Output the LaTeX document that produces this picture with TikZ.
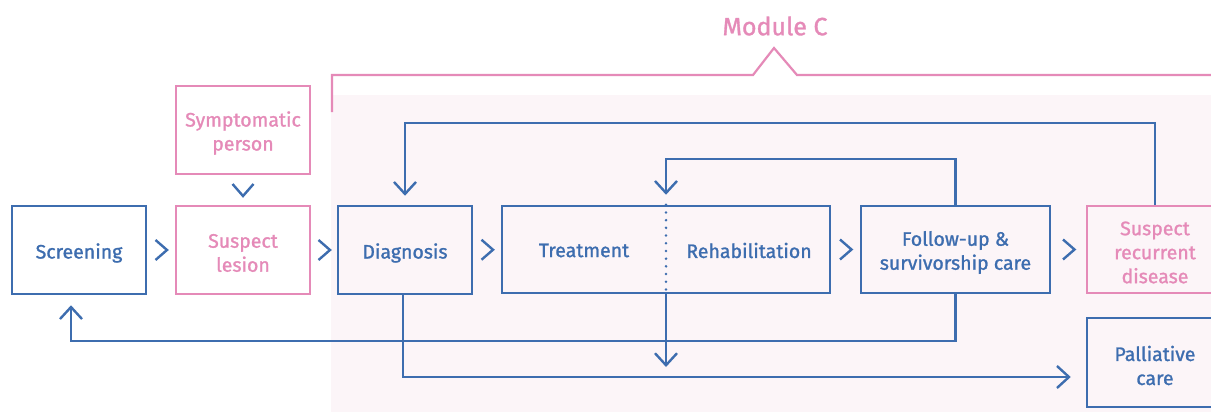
\documentclass[tikz,border=0pt]{standalone}
\usepackage{fontspec}
\setmainfont{Fira Sans}[FakeBold=1.2]
\usetikzlibrary{arrows.meta,calc}
\definecolor{eublue}{HTML}{3D6DAF}
\definecolor{eupink}{HTML}{E58AB8}
\definecolor{bgpink}{HTML}{FCF5F8}
\tikzset{
 lbl/.style={text=eublue, inner sep=0pt, align=center, font=\fontsize{19.5}{24}\selectfont},
 plbl/.style={lbl, text=eupink},
 box/.style={draw=eublue, line width=2.5pt, minimum width=134pt, minimum height=88pt, inner sep=0pt, label={[lbl,yshift=-3pt]center:{#1}}},
 pbox/.style={draw=eupink, line width=2.5pt, minimum width=134pt, minimum height=88pt, inner sep=0pt, label={[plbl,yshift=-3pt]center:{#1}}},
 conn/.style={draw=eublue, line width=2.4pt},
 arr/.style={conn, -{Straight Barb[length=12pt,width=22pt]}},
 chev/.style={draw=eublue, line width=2.4pt, line join=miter},
}
\begin{document}
\begin{tikzpicture}[x=1pt,y=-1pt]
\useasboundingbox (0,0) rectangle (1211,412);
\clip (0,0) rectangle (1211,412);
\fill[white] (0,0) rectangle (1211,412);
\fill[bgpink] (331,95) rectangle (1211,412);
% module bracket
\draw[eupink, line width=2.2pt] (332,112) -- (332,75) -- (753,75) -- (774,48) -- (797,75) -- (1215,75);
\node[text=eupink, font=\fontsize{25}{30}\selectfont, inner sep=0pt] (mod) at (775,26) {Module C};
% boxes
\node[box={Screening}] (screen) at (79,250) {};
\node[pbox={Symptomatic\\person}] (symp) at (243,130) {};
\node[pbox={Suspect\\lesion}] (lesion) at (243,250) {};
\node[box={Diagnosis}] (diag) at (405,250) {};
\node[box={}, minimum width=328pt, minimum height=87pt] (tr) at (666,249.5) {};
\node[lbl] (treat) at (584,250.5) {Treatment};
\node[lbl] (rehab) at (749,250.5) {Rehabilitation};
\node[box={Follow-up \&\\survivorship care}, minimum width=189pt, minimum height=87pt] (fu) at (955.5,249.5) {};
\node[pbox={Suspect\\recurrent\\disease}, minimum width=136pt, minimum height=87pt] (recur) at (1155,249.5) {};
\node[box={Palliative\\care}, minimum width=136pt, minimum height=89pt] (pall) at (1155,362.5) {};
% dotted divider
\draw[eublue, line width=2.8pt, line cap=round, dash pattern=on 0pt off 7.7pt] (tr.north) -- (tr.south);
% chevrons
\path (screen.east) -- (lesion.west) coordinate[midway] (c1);
\path (lesion.east) -- (diag.west) coordinate[midway] (c2);
\path (diag.east) -- (tr.west) coordinate[midway] (c3);
\path (tr.east) -- (fu.west) coordinate[midway] (c4);
\path (fu.east) -- (recur.west) coordinate[midway] (c5);
\path (symp.south) -- (lesion.north) coordinate[midway] (c6);
\foreach \c in {c1,c2,c3,c4,c5}{
  \draw[chev] ($(\c)+(-5.5,-10)$) -- ($(\c)+(6,0)$) -- ($(\c)+(-5.5,10)$);
}
\draw[chev] ($(c6)+(-10.5,-6)$) -- ($(c6)+(0,6)$) -- ($(c6)+(10.5,-6)$);
% connectors
\coordinate (yA) at (0,123);
\coordinate (yB) at (0,159);
\coordinate (yC) at (0,341);
\coordinate (trend) at (666,367);
\draw[arr, shorten >=9pt] (recur.north) -- (recur.north |- yA) -| (diag.north);
\draw[arr, shorten >=10pt] (fu.north) -- (fu.north |- yB) -| (tr.north);
\draw[arr, shorten >=10pt] (fu.south) -- (fu.south |- yC) -| ([xshift=-8pt]screen.south);
\draw[arr, shorten >=15pt] ([xshift=-2pt]diag.south) |- ([yshift=-14.5pt]pall.west);
\draw[arr] (tr.south) -- (trend);
\end{tikzpicture}
\end{document}
